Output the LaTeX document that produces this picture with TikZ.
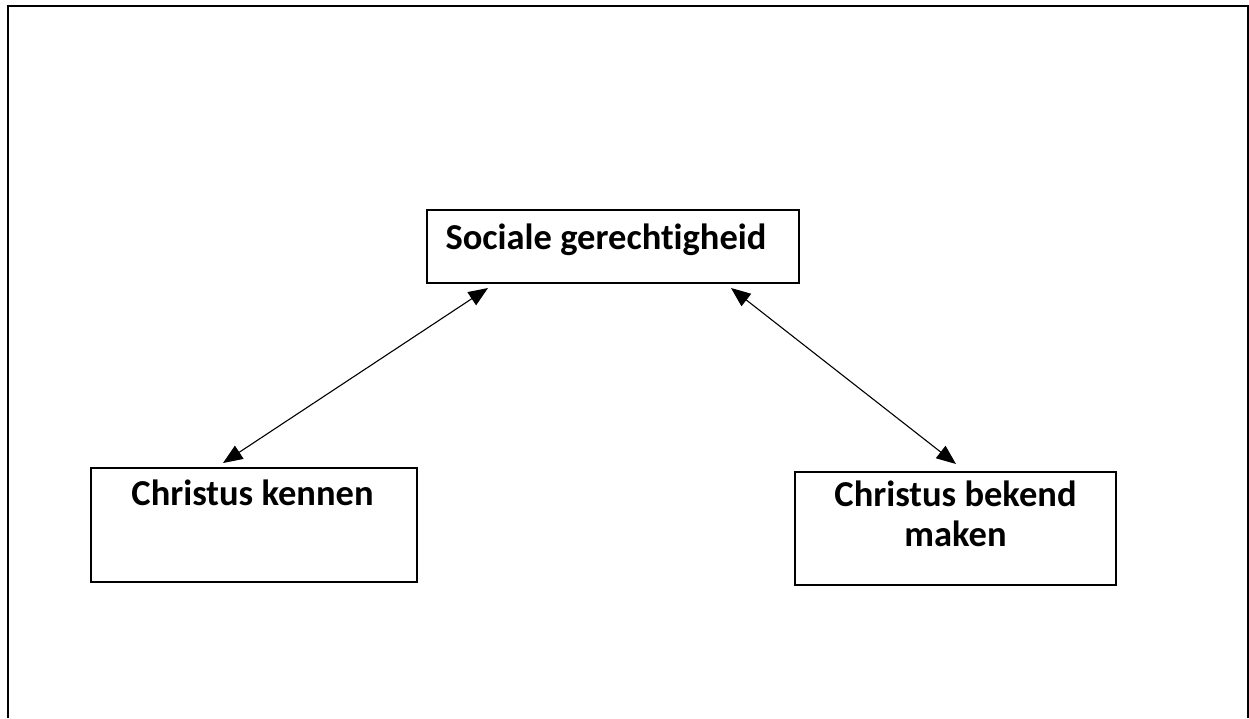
\documentclass[tikz,border=0pt]{standalone}
\usepackage{fontspec}
\setmainfont{Carlito}[Ligatures=NoCommon]
\usetikzlibrary{arrows.meta}
\begin{document}
\begin{tikzpicture}[x=1pt,y=-1pt,
  box/.style={draw, line width=2pt, inner sep=0pt, anchor=north west,
    font=\bfseries\fontsize{36.5}{40}\selectfont},
  link/.style={line width=1.1pt,
    {Triangle[length=19.5pt,width=15.6pt]}-{Triangle[length=19.5pt,width=15.6pt]}}]
\useasboundingbox (0,0) rectangle (1249,718);
\draw[line width=2pt] (7.5,718) -- (7.5,6) -- (1247.5,6) -- (1247.5,718);
\node[box] (soc) at (426,209)
  {\parbox[c][73pt][t]{372pt}{\centering\rule{0pt}{39pt}Sociale gerechtigheid\hspace*{14pt}}};
\node[box] (ken) at (90,467)
  {\parbox[c][114pt][t]{326pt}{\centering\rule{0pt}{37pt}Christus kennen\hspace*{3pt}}};
\node[box] (bek) at (794,471)
  {\parbox[c][113pt][t]{321pt}{\centering\rule{0pt}{34pt}Christus bekend\\maken}};
\draw[link] ([shift={(62,4)}]soc.south west) -- ([shift={(133,-4)}]ken.north west);
\draw[link] ([shift={(305,4)}]soc.south west) -- ([shift={(162,-7)}]bek.north west);
\end{tikzpicture}
\end{document}
